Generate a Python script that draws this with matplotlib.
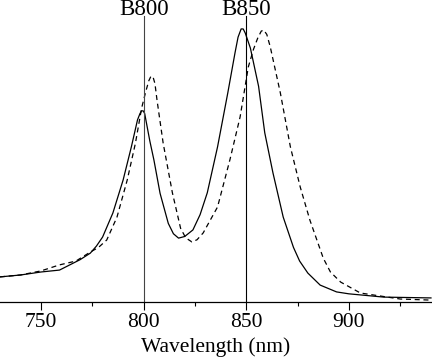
import matplotlib
matplotlib.use("Agg")
import matplotlib.pyplot as plt
from matplotlib.ticker import MultipleLocator

# solid spectrum
wl_solid = [730, 740, 750, 759, 764, 769, 774, 777, 780, 785, 790, 794, 797,
            798.2, 799, 799.8, 800.5, 801.5, 803, 805, 808, 812, 814.5, 817,
            820, 824, 827.5, 831, 836, 841, 844.5, 846, 847.5, 848.5, 849.5,
            852, 856, 859, 863, 868, 873, 876, 880, 886, 894, 900, 917, 940]
abs_solid = [0.092, 0.099, 0.110, 0.117, 0.136, 0.155, 0.179, 0.205, 0.238,
             0.326, 0.447, 0.568, 0.667, 0.690, 0.700, 0.700, 0.690, 0.650,
             0.590, 0.520, 0.398, 0.288, 0.250, 0.234, 0.240, 0.264, 0.320,
             0.400, 0.568, 0.766, 0.912, 0.970, 1.000, 1.000, 0.985, 0.930,
             0.790, 0.620, 0.473, 0.311, 0.200, 0.150, 0.106, 0.062, 0.037,
             0.030, 0.018, 0.015]

# dashed spectrum
wl_dash = [730, 740, 750, 759, 767, 774, 778, 782, 787, 792, 796, 799, 801,
           802.5, 803.5, 804.5, 805.5, 806.5, 809.5, 814, 818, 820.5, 823.5,
           826, 829, 836, 842, 847, 851, 853.5, 855.5, 857.3, 858.5, 860,
           861.7, 866.6, 871.5, 876.3, 881, 887.5, 891, 896, 905.6, 925, 940]
abs_dash = [0.092, 0.099, 0.114, 0.136, 0.150, 0.183, 0.200, 0.227, 0.311,
            0.447, 0.582, 0.710, 0.770, 0.810, 0.826, 0.826, 0.800, 0.740,
            0.582, 0.400, 0.270, 0.235, 0.220, 0.228, 0.253, 0.348, 0.520,
            0.678, 0.861, 0.925, 0.965, 0.992, 0.996, 0.980, 0.934, 0.766,
            0.568, 0.421, 0.300, 0.161, 0.110, 0.073, 0.033, 0.011, 0.007]

bands = [800, 850]
band_labels = ["B800", "B850"]

plt.rcParams["font.family"] = ["Liberation Serif", "DejaVu Serif"]

fig = plt.figure(figsize=(4.32, 3.57), dpi=100)
ax = fig.add_axes([0, 0.154, 1, 0.846])

ax.plot(wl_solid, abs_solid, color="black", lw=0.9)
ax.plot(wl_dash, abs_dash, color="black", lw=0.9, ls=(0, (4, 3)))

for b, lab, c in zip(bands, band_labels, ["#444444", "black"]):
    ax.plot([b, b], [0, 1.048], color=c, lw=0.8)
    ax.text(b, 1.052, lab, ha="center", va="baseline", fontsize=16.5, clip_on=False)

ax.set_xlim(730, 940.5)
ax.set_ylim(0, 1.106)

for s in ["left", "right", "top"]:
    ax.spines[s].set_visible(False)
ax.spines["bottom"].set_linewidth(0.9)
ax.set_yticks([])
ax.xaxis.set_major_locator(MultipleLocator(50))
ax.xaxis.set_minor_locator(MultipleLocator(25))
ax.tick_params(axis="x", which="major", length=6, width=0.8, labelsize=15.5, pad=2)
ax.tick_params(axis="x", which="minor", length=3, width=0.8)
ax.set_xlabel("Wavelength (nm)", fontsize=15.5, labelpad=3.5)

fig.savefig("out.png", dpi=100)
